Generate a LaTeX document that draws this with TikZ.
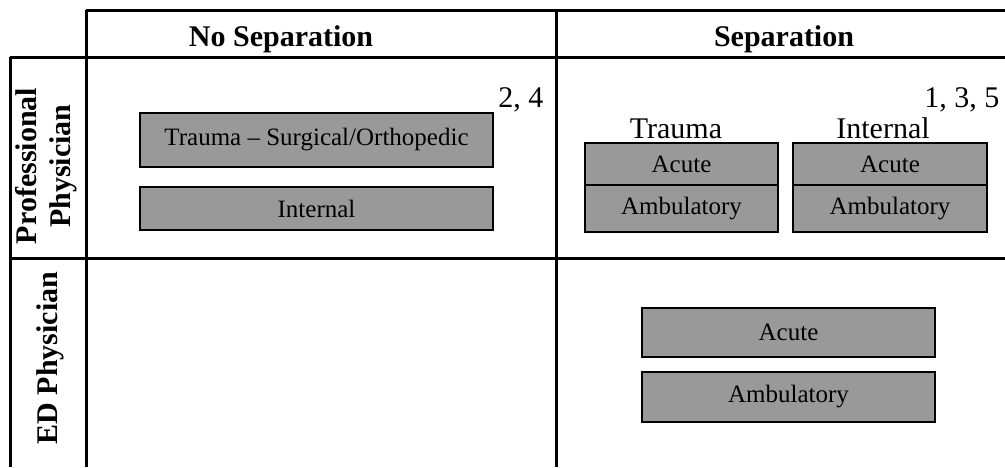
\documentclass[tikz,border=0pt]{standalone}
\usepackage{fontspec}
\setmainfont{Liberation Serif}
\usetikzlibrary{positioning}

\begin{document}
\begin{tikzpicture}[x=1pt, y=-1pt,
    grid/.style={line width=3pt},
    cellbox/.style={draw, line width=2.2pt, fill=black!40, inner sep=0pt, outer sep=0pt, font=\fontsize{25}{30}\selectfont},
    head/.style={font=\fontsize{30}{34}\selectfont\bfseries, anchor=base},
    rowhead/.style={font=\fontsize{30}{34}\selectfont\bfseries, rotate=90, align=center},
    tag/.style={font=\fontsize{30}{34}\selectfont, anchor=base}]

    \useasboundingbox (0,0) rectangle (1005,467);

    % --- GRID ---
    \draw[grid] (86,10) -- (1005,10);
    \draw[grid] (10,57) -- (1005,57);
    \draw[grid] (10,258) -- (1005,258);
    \draw[grid] (10,57) -- (10,467);
    \draw[grid] (86,10) -- (86,467);
    \draw[grid] (556,10) -- (556,467);

    % --- HEADERS ---
    \node[head] (nosep) at (281,46) {No Separation};
    \node[head] (sep) at (784,46) {Separation};
    \node[rowhead] (prof) at (46,166) {Professional\\Physician};
    \node[rowhead] (ed) at (50,358) {ED Physician};

    % --- NO SEPARATION, PROFESSIONAL ---
    \node[tag, anchor=base east] (tagA) at (547,107) {2, 4};
    \node[cellbox, minimum width=353pt, minimum height=54pt] (trauma) at (316.5,140) {Trauma -- Surgical/Orthopedic};
    \node[cellbox, minimum width=353pt, minimum height=43pt] (internal) at (316.5,208.5) {Internal};

    % --- SEPARATION, PROFESSIONAL ---
    \node[tag, anchor=base east] (tagB) at (1003,107) {1, 3, 5};
    \node[tag] (tlabel) at (676,138) {Trauma};
    \node[tag] (ilabel) at (883,138) {Internal};
    \node[cellbox, minimum width=193pt, minimum height=42pt] (tacute) at (681.5,164) {Acute};
    \node[cellbox, minimum width=193pt, minimum height=47pt, below=0pt of tacute] (tamb) {Ambulatory};
    \node[cellbox, minimum width=194pt, minimum height=42pt] (iacute) at (890,164) {Acute};
    \node[cellbox, minimum width=194pt, minimum height=47pt, below=0pt of iacute] (iamb) {Ambulatory};

    % --- SEPARATION, ED ---
    \node[cellbox, minimum width=293pt, minimum height=49pt] (edacute) at (788.5,332.5) {Acute};
    \node[cellbox, minimum width=293pt, minimum height=50pt] (edamb) at (788.5,397) {Ambulatory};

\end{tikzpicture}
\end{document}
